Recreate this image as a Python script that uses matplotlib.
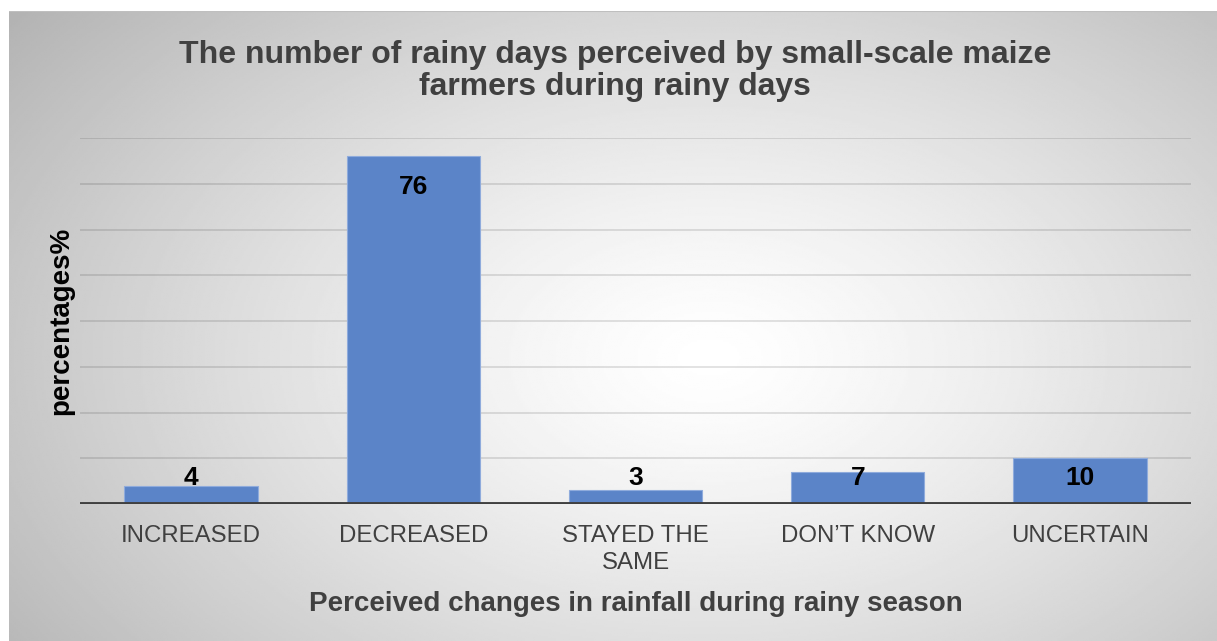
import numpy as np
import matplotlib
matplotlib.use("Agg")
import matplotlib.pyplot as plt

categories = ["INCREASED", "DECREASED", "STAYED THE\nSAME", "DON\u2019T KNOW", "UNCERTAIN"]
values = [4, 76, 3, 7, 10]
grid_levels = [10, 20, 30, 40, 50, 60, 70, 80]

W, H = 1217, 641
fig = plt.figure(figsize=(W / 100, H / 100), dpi=100)
plt.rcParams['font.family'] = ['Liberation Sans', 'DejaVu Sans']

# radial gradient background of the chart area
bg = fig.add_axes([9 / W, 0, 1 - 9 / W, (H - 11) / H])
yy, xx = np.mgrid[0:1:300j, 0:1:600j]
r = np.sqrt(((xx - 0.58) / 0.62) ** 2 + ((yy - 0.45) / 0.75) ** 2)
shade = np.clip(1.0 - 0.24 * r ** 1.3, 0, 1)
bg.imshow(shade, cmap='gray', vmin=0, vmax=1, aspect='auto', extent=[0, 1, 0, 1], origin='lower')
bg.plot([0, 1], [1, 1], color='#bfbfbf', lw=1.5)
bg.set_xlim(0, 1)
bg.set_ylim(0, 1)
bg.axis('off')

ax = fig.add_axes([80 / W, (H - 504) / H, (1191 - 80) / W, (504 - 138) / H])
ax.patch.set_alpha(0)
x = np.arange(len(categories))
for g in grid_levels:
    ax.axhline(g, color='black', alpha=0.13, lw=1.2, zorder=1)
ax.bar(x, values, width=0.6, color='#5b84c8', edgecolor='#8fabdc', linewidth=0.8, zorder=2)
ax.axhline(0, color='#404040', lw=2.8, zorder=3)
ax.set_xlim(-0.5, len(categories) - 0.5)
ax.set_ylim(0, 80)
ax.set_yticks([])
ax.set_xticks(x)
ax.set_xticklabels(categories, fontsize=17.3, color='#404040', linespacing=1.3)
ax.tick_params(axis='x', length=0, pad=15)
for s in ax.spines.values():
    s.set_visible(False)

for xi, v in zip(x, values):
    ax.text(xi, max(v - 6.8, 5.7), str(v), ha='center', va='center',
            fontsize=19, fontweight='bold', color='black', zorder=4)

ax.set_ylabel("percentages%", fontsize=20, fontweight='bold', color='black', labelpad=4)
ax.set_xlabel("Perceived changes in rainfall during rainy season", fontsize=20,
              fontweight='bold', color='#404040', labelpad=12)

fig.text(615 / W, 1 - 71 / H,
         "The number of rainy days perceived by small-scale maize\nfarmers during rainy days",
         ha='center', va='center', fontsize=23, fontweight='bold', color='#404040',
         linespacing=1.13)

fig.savefig("out.png", dpi=100)
